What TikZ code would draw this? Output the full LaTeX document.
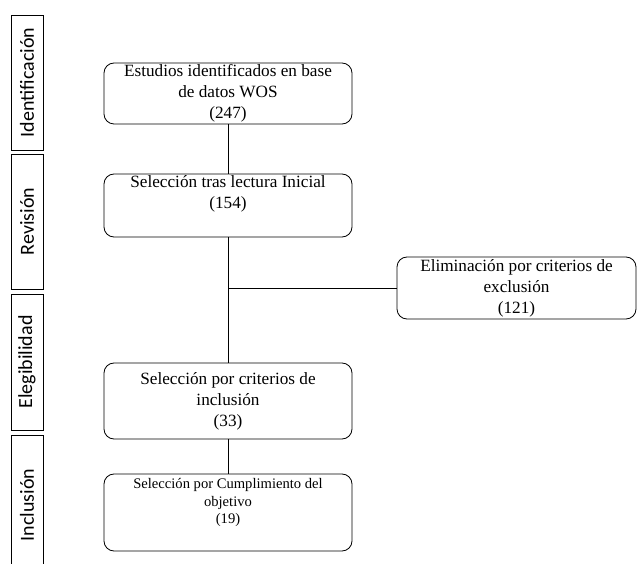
\documentclass[tikz,border=0pt]{standalone}
\usepackage{fontspec}
\setmainfont{Liberation Serif}
\newfontfamily\labelfont{Carlito}
\begin{document}
\begin{tikzpicture}[x=1pt,y=-1pt,
  lab/.style={draw, line width=0.8pt, rotate=90, minimum height=32, inner sep=0pt,
    font=\labelfont\fontsize{20}{24}\selectfont},
  box/.style={draw, line width=0.8pt, rounded corners=10pt, align=center, inner sep=0pt,
    font=\fontsize{17.2}{21}\selectfont},
  smallbox/.style={box, font=\fontsize{14.6}{17.5}\selectfont},
  conn/.style={line width=0.8pt}]
\useasboundingbox (0,0) rectangle (638,564);
% phase labels
\node[lab, minimum width=135] (idf) at (27,82.5) {Identificación};
\node[lab, minimum width=135] (rev) at (27,221.5) {Revisión};
\node[lab, minimum width=136] (ele) at (27,362) {Elegibilidad};
\node[lab, minimum width=140] (inc) at (27,505) {Inclusión};
% boxes
\node[box, minimum width=248, minimum height=61] (b1) at (228,93.5)
  {Estudios identificados en base\\de datos WOS\\(247)};
\node[box, minimum width=248, minimum height=63] (b2) at (228,205.5)
  {Selección tras lectura Inicial\\(154)\\\strut};
\node[box, minimum width=239, minimum height=62] (b3) at (516.5,288)
  {Eliminación por criterios de\\exclusión\\(121)};
\node[box, minimum width=248, minimum height=76] (b4) at (228,401)
  {Selección por criterios de\\inclusión\\(33)};
\node[smallbox, minimum width=248, minimum height=77] (b5) at (228,512.5)
  {Selección por Cumplimiento del\\objetivo\\(19)\\\strut};
% connectors
\draw[conn] (b1) -- (b2);
\draw[conn] (b2) -- (b4);
\coordinate (j) at (b2.south |- b3.west);
\draw[conn] (j) -- (b3.west);
\draw[conn] (b4) -- (b5);
\end{tikzpicture}
\end{document}
